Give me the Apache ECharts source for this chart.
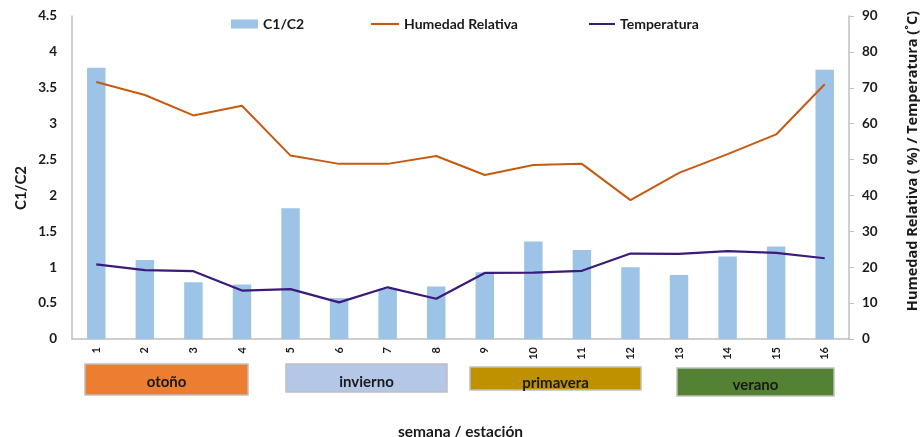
<!DOCTYPE html>
<html>
<head>
<meta charset="utf-8">
<script src="https://cdn.jsdelivr.net/npm/echarts@6/dist/echarts.min.js"></script>
<style>
  html, body { margin: 0; padding: 0; background: #fff; }
  #chart { width: 924px; height: 437px; }
</style>
</head>
<body>
<div id="chart"></div>
<script>
// Weeks 1..16 on the category axis
const semanas = ['1','2','3','4','5','6','7','8','9','10','11','12','13','14','15','16'];
// C1/C2 ratio per week (left axis)
const c1c2 = [3.78, 1.10, 0.79, 0.76, 1.82, 0.57, 0.70, 0.73, 0.93, 1.36, 1.24, 1.00, 0.89, 1.15, 1.29, 3.75];
// Relative humidity, % (right axis)
const humedad = [71.6, 68.0, 62.3, 65.0, 51.1, 48.8, 48.8, 51.0, 45.7, 48.5, 48.8, 38.7, 46.3, 51.5, 57.0, 71.0];
// Temperature, °C (right axis)
const temperatura = [20.8, 19.2, 18.9, 13.5, 13.9, 10.2, 14.4, 11.2, 18.4, 18.5, 19.0, 23.8, 23.7, 24.5, 24.0, 22.5];
// Season bands under the weeks
const estaciones = ['otoño', 'invierno', 'primavera', 'verano'];

const FONT = 'Lato, "Open Sans", sans-serif';
const AXIS_GRAY = '#BFBFBF';
const INK = '#1a1a1a';

const chart = echarts.init(document.getElementById('chart'), null, { renderer: 'canvas' });

// Season label boxes (decoration below the x axis)
const bandStyle = [
  { x: 85, y: 364, w: 163, h: 31, fill: '#ED7D31', dy: 3 },
  { x: 286, y: 364, w: 161, h: 28, fill: '#B4C7E7', dy: 4 },
  { x: 470, y: 367, w: 171, h: 23, fill: '#BF9000', dy: 4.5 },
  { x: 677, y: 368, w: 157, h: 28, fill: '#548235', dy: 3 }
];
const graphics = [];
estaciones.forEach((name, i) => {
  const b = bandStyle[i];
  graphics.push({
    type: 'rect',
    shape: { x: b.x, y: b.y, width: b.w, height: b.h },
    style: { fill: b.fill, stroke: '#BFBFBF', lineWidth: 1.5 }
  });
  graphics.push({
    type: 'text',
    x: b.x + b.w / 2,
    y: b.y + b.h / 2 + b.dy,
    style: {
      text: name, fill: INK, font: 'bold 15px ' + FONT,
      align: 'center', verticalAlign: 'middle'
    }
  });
});

// Vertical axis titles
graphics.push({
  type: 'text', x: 21, y: 188, rotation: Math.PI / 2,
  style: { text: 'C1/C2', fill: INK, font: 'bold 15px ' + FONT, align: 'center', verticalAlign: 'middle' }
});
graphics.push({
  type: 'text', x: 913, y: 161, rotation: Math.PI / 2,
  style: {
    text: 'Humedad Relativa ( %) / Temperatura (˚C)', fill: INK,
    font: 'bold 14.5px "Open Sans", sans-serif', align: 'center', verticalAlign: 'middle'
  }
});

const legendText = { fontFamily: FONT, fontWeight: 'bold', fontSize: 14, color: INK };
const lineIcon = 'path://M0,4 L26,4 L26,6 L0,6 Z';

chart.setOption({
  animation: false,
  textStyle: { fontFamily: FONT },
  grid: { left: 72, right: 75, top: 16, bottom: 98, containLabel: false, outerBoundsMode: 'none' },
  legend: [
    { top: 12, left: 226, itemWidth: 27, itemHeight: 9, textStyle: legendText,
      data: [{ name: 'C1/C2', icon: 'rect' }] },
    { top: 12, left: 366, itemWidth: 28, itemHeight: 9, textStyle: legendText,
      data: [{ name: 'Humedad Relativa', icon: lineIcon }] },
    { top: 12, left: 584, itemWidth: 26, itemHeight: 9, textStyle: legendText,
      data: [{ name: 'Temperatura', icon: lineIcon }] }
  ],
  xAxis: {
    type: 'category',
    data: semanas,
    name: 'semana / estación',
    nameLocation: 'middle',
    nameGap: 85,
    nameTextStyle: { fontFamily: FONT, fontWeight: 'bold', fontSize: 15.5, color: INK },
    axisLine: { lineStyle: { color: AXIS_GRAY, width: 1.5 } },
    axisTick: { show: false },
    axisLabel: { rotate: 90, fontFamily: FONT, fontWeight: 'bold', fontSize: 11, color: INK, margin: 8 }
  },
  yAxis: [
    {
      type: 'value',
      min: 0, max: 4.5, interval: 0.5,
      axisLine: { show: true, lineStyle: { color: AXIS_GRAY, width: 1.5 } },
      axisTick: { show: false },
      splitLine: { show: false },
      axisLabel: { fontFamily: FONT, fontWeight: 'bold', fontSize: 13.5, color: INK, margin: 15 }
    },
    {
      type: 'value',
      min: 0, max: 90, interval: 10,
      position: 'right',
      axisLine: { show: true, lineStyle: { color: AXIS_GRAY, width: 1.5 } },
      axisTick: { show: true, length: 5, lineStyle: { color: AXIS_GRAY } },
      splitLine: { show: false },
      axisLabel: { fontFamily: FONT, fontWeight: 'bold', fontSize: 13.5, color: INK, margin: 13 }
    }
  ],
  series: [
    {
      name: 'C1/C2',
      type: 'bar',
      yAxisIndex: 0,
      data: c1c2,
      barWidth: '38%',
      itemStyle: { color: '#9DC3E6' }
    },
    {
      name: 'Humedad Relativa',
      type: 'line',
      yAxisIndex: 1,
      data: humedad,
      symbol: 'none',
      lineStyle: { color: '#C55A11', width: 2 },
      itemStyle: { color: '#C55A11' }
    },
    {
      name: 'Temperatura',
      type: 'line',
      yAxisIndex: 1,
      data: temperatura,
      symbol: 'none',
      lineStyle: { color: '#3B1A7A', width: 2.2 },
      itemStyle: { color: '#3B1A7A' }
    }
  ],
  graphic: graphics
});
</script>
</body>
</html>
